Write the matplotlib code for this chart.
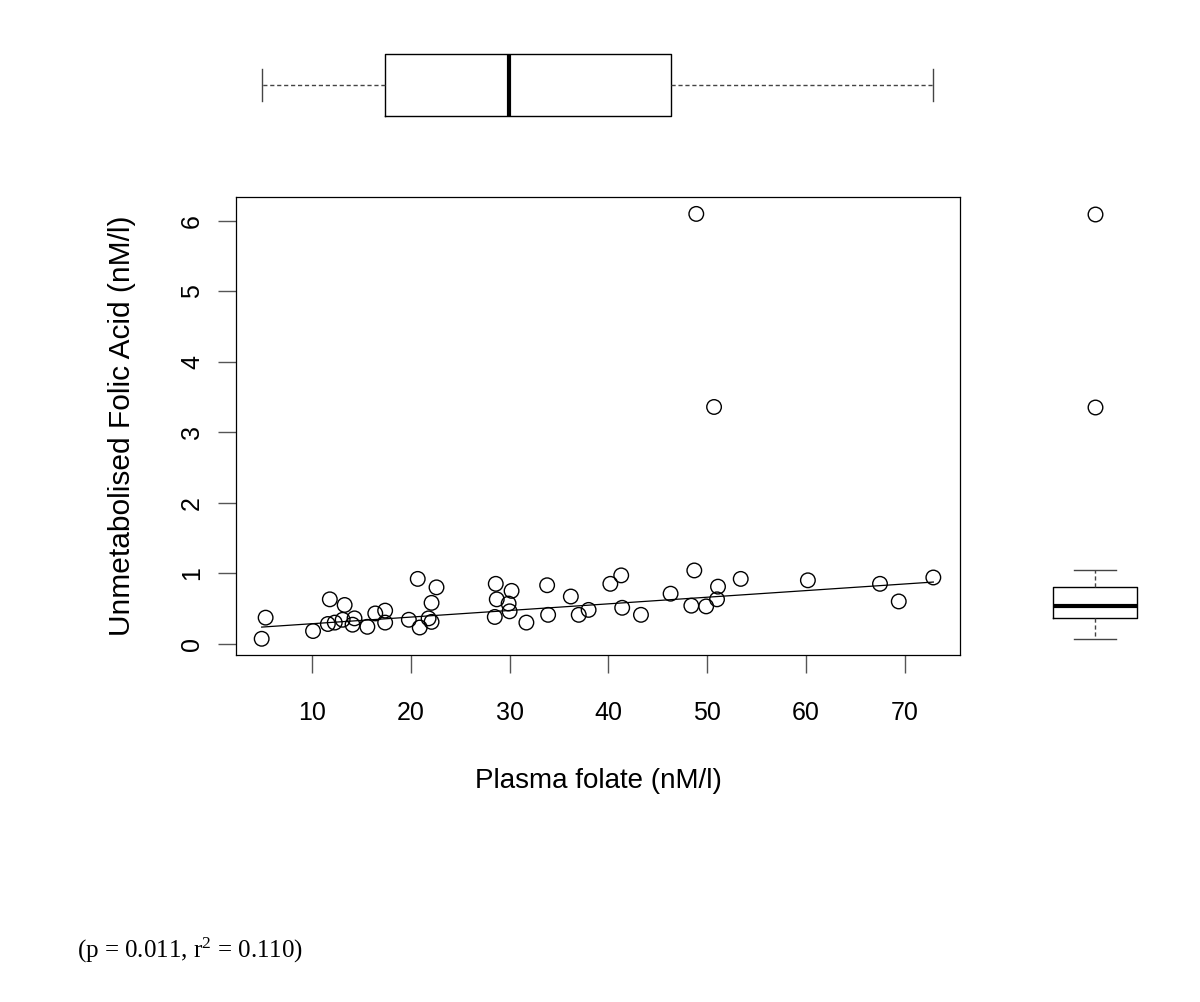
import numpy as np
import matplotlib.pyplot as plt

# valores
plasma_folate = [4.9, 5.3, 10.1, 11.8, 11.6, 12.3, 13.3, 13.1, 14.1, 14.3,
                 15.6, 16.4, 17.4, 17.4, 19.8, 20.7, 20.9, 21.8, 22.1, 22.1,
                 22.6, 28.6, 28.7, 28.5, 30.2, 29.9, 30.0, 31.7, 33.8, 33.9,
                 36.2, 37.0, 38.0, 40.2, 41.3, 41.4, 43.3, 46.3, 48.7, 48.4,
                 49.9, 51.1, 51.0, 53.4, 60.2, 67.5, 69.4, 72.9, 48.9, 50.7]
umfa = [0.07, 0.37, 0.18, 0.63, 0.28, 0.30, 0.55, 0.34, 0.27, 0.36,
        0.24, 0.43, 0.47, 0.30, 0.34, 0.92, 0.23, 0.36, 0.58, 0.31,
        0.80, 0.85, 0.63, 0.38, 0.75, 0.57, 0.46, 0.30, 0.83, 0.41,
        0.67, 0.41, 0.48, 0.85, 0.97, 0.51, 0.41, 0.71, 1.04, 0.54,
        0.53, 0.81, 0.63, 0.92, 0.90, 0.85, 0.60, 0.94, 6.10, 3.36]

# recta de regresion
fit_intercept = 0.19
fit_slope = 0.0094

x_ticks = [10, 20, 30, 40, 50, 60, 70]
y_ticks = [0, 1, 2, 3, 4, 5, 6]
x_label = "Plasma folate (nM/l)"
y_label = "Unmetabolised Folic Acid (nM/l)"
stats_text = "(p = 0.011, r$^2$ = 0.110)"

plt.rcParams['font.family'] = ['Liberation Sans', 'DejaVu Sans']
plt.rcParams['mathtext.fontset'] = 'custom'
plt.rcParams['mathtext.rm'] = 'Liberation Serif'
plt.rcParams['mathtext.it'] = 'Liberation Serif'


def stats_r(valores):
    # bisagras como fivenum de R
    v = np.sort(np.asarray(valores, dtype=float))
    n = len(v)
    n4 = np.floor((n + 3) / 2) / 2
    d = np.array([1, n4, (n + 1) / 2, n + 1 - n4, n]) - 1
    five = 0.5 * (v[np.floor(d).astype(int)] + v[np.ceil(d).astype(int)])
    q1, med, q3 = five[1], five[2], five[3]
    iqr = q3 - q1
    dentro = v[(v >= q1 - 1.5 * iqr) & (v <= q3 + 1.5 * iqr)]
    return dict(med=med, q1=q1, q3=q3, whislo=dentro.min(), whishi=dentro.max(),
                fliers=v[(v < q1 - 1.5 * iqr) | (v > q3 + 1.5 * iqr)])


W, H = 1200, 1002
fig = plt.figure(figsize=(W / 100, H / 100), dpi=100)

# grafico principal
ax = fig.add_axes([236 / W, (H - 655) / H, 724 / W, 458 / H])
ax.scatter(plasma_folate, umfa, s=110, facecolors='none', edgecolors='black', linewidths=1, zorder=3)
xs = np.array([min(plasma_folate), max(plasma_folate)])
ax.plot(xs, fit_intercept + fit_slope * xs, color='black', lw=0.9)
ax.set_xlim(2.3, 75.6)
ax.set_ylim(-0.16, 6.34)
ax.set_xticks(x_ticks)
ax.set_yticks(y_ticks)
ax.tick_params(axis='both', length=13, width=1, color='#555555', labelsize=18, direction='out')
ax.tick_params(axis='x', pad=20)
ax.tick_params(axis='y', pad=10)
for lab in ax.get_yticklabels():
    lab.set_rotation(90)
    lab.set_va('center')
for s in ax.spines.values():
    s.set_linewidth(0.9)
ax.set_xlabel(x_label, fontsize=20)
ax.set_ylabel(y_label, fontsize=21.5)
ax.xaxis.set_label_coords(0.5, (655 - 781) / 458)
ax.xaxis.label.set_va('center')
ax.yaxis.set_label_coords((122 - 236) / 724, 0.5)
ax.yaxis.label.set_va('center')

box_kw = dict(
    widths=0.8,
    capwidths=0.4,
    boxprops=dict(color='black', lw=1),
    whiskerprops=dict(color='#444444', lw=1, linestyle=(0, (3, 2))),
    capprops=dict(color='#444444', lw=1),
    medianprops=dict(color='black', lw=3),
    flierprops=dict(marker='o', markerfacecolor='none', markeredgecolor='black', markersize=10.5, markeredgewidth=1),
)

# boxplot de arriba (plasma folate)
ax_top = fig.add_axes([236 / W, (H - 130) / H, 724 / W, 90 / H])
ax_top.bxp([stats_r(plasma_folate)], positions=[1], orientation='horizontal', **box_kw)
ax_top.set_xlim(2.3, 75.6)
ax_top.set_ylim(0.42, 1.58)
ax_top.axis('off')

# boxplot de la derecha (UMFA)
ax_right = fig.add_axes([1040 / W, (H - 655) / H, 110 / W, 458 / H])
ax_right.bxp([stats_r(umfa)], positions=[1], **box_kw)
ax_right.set_xlim(0.48, 1.52)
ax_right.set_ylim(-0.16, 6.34)
ax_right.axis('off')

fig.text(77 / W, 1 - 950 / H, stats_text, fontsize=18, family=['Liberation Serif', 'DejaVu Serif'], va='center', ha='left')

plt.savefig("out.png", dpi=100)
plt.close()
